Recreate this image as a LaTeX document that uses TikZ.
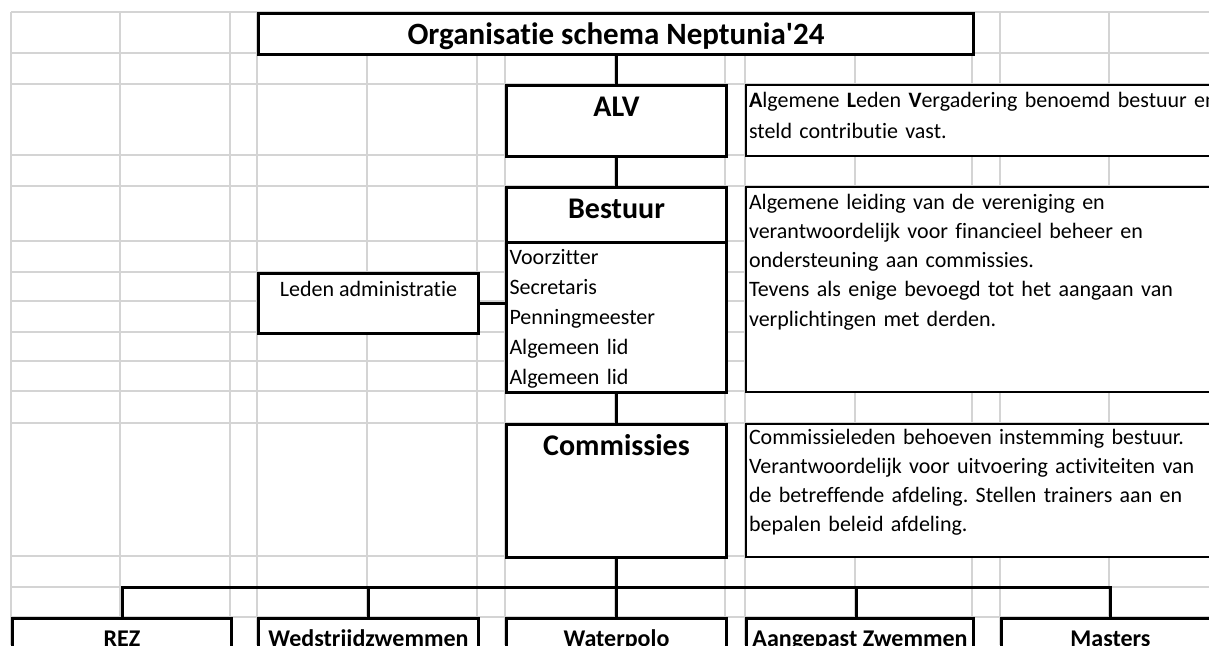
\documentclass[tikz,border=0pt]{standalone}
\usepackage{fontspec}
\setmainfont{Carlito}[Ligatures={TeXOff,NoCommon}]
\usepackage{xcolor}
\frenchspacing

\definecolor{gridgray}{RGB}{212,212,212}

\begin{document}
\begin{tikzpicture}[x=1pt, y=-1pt, line width=3pt,
  box/.style={draw, fill=white, line width=3pt, inner sep=0pt, minimum width=220pt, anchor=north west},
  desc/.style={draw, fill=white, line width=2pt, inner xsep=3pt, inner ysep=0pt, text width=480pt, align=left, anchor=north west, font=\fontsize{22}{29.3}\selectfont},
  head/.style={font=\fontsize{30}{36}\selectfont\bfseries, text height=31pt},
  unit/.style={font=\fontsize{24}{29}\selectfont\bfseries, text height=28pt, text depth=20pt},
  conn/.style={line width=3pt}]

  \useasboundingbox (0,0) rectangle (1209,645);
  \clip (0,0) rectangle (1209,645);

  % sheet grid
  \foreach \x in {11,120,230,257,367,477,505,615,725,745,855,972,1000,1109}
    \draw[gridgray, line width=1.5pt] (\x,12) -- (\x,645);
  \foreach \y in {12,53,84,155,186,241,272,301,332,361,391,423,556,587,617}
    \draw[gridgray, line width=1.5pt] (11,\y) -- (1209,\y);

  % main column
  \node[box, minimum width=715pt, font=\fontsize{31}{36}\selectfont\bfseries, text height=31pt, text depth=10pt] (title) at (257,12) {Organisatie schema Neptunia'24};
  \node[box, head, text depth=40pt] (alv) at (505,84) {ALV};
  \node[box, head, text depth=24pt] (bestuur) at (505,186) {Bestuur};
  \node[box, inner xsep=3pt, text width=214pt, align=left, font=\fontsize{22}{30}\selectfont, text height=22pt, text depth=128pt] (functies) at (505,241)
    {Voorzitter\\ Secretaris\\ Penningmeester\\ Algemeen lid\\ Algemeen lid};
  \node[box, font=\fontsize{22}{29}\selectfont, text height=23pt, text depth=37pt] (ledenadm) at (257,272) {Leden administratie};
  \node[box, head, text depth=102pt] (comm) at (505,423) {Commissies};

  % explanations
  \node[desc, text height=22pt, text depth=49pt, font=\fontsize{22}{31}\selectfont] (alvtxt) at (745,84)
    {\textbf{A}lgemene \textbf{L}eden \textbf{V}ergadering benoemd bestuur en\\ steld contributie vast.};
  \node[desc, text height=22pt, text depth=183pt] (bestuurtxt) at (745,186)
    {Algemene leiding van de vereniging en\\ verantwoordelijk voor financieel beheer en\\ ondersteuning aan commissies.\\ Tevens als enige bevoegd tot het aangaan van\\ verplichtingen met derden.};
  \node[desc, text height=20pt, text depth=113pt] (commtxt) at (745,423)
    {Commissieleden behoeven instemming bestuur.\\ Verantwoordelijk voor uitvoering activiteiten van\\ de betreffende afdeling. Stellen trainers aan en\\ bepalen beleid afdeling.};

  % afdelingen
  \node[box, unit, minimum width=219pt] (rez) at (11,617) {REZ};
  \node[box, unit] (wedstrijd) at (257,617) {Wedstrijdzwemmen};
  \node[box, unit] (waterpolo) at (505,617) {Waterpolo};
  \node[box, unit, minimum width=227pt] (aangepast) at (745,617) {Aangepast Zwemmen};
  \node[box, unit, minimum width=218pt] (masters) at (1000,617) {Masters};

  % lines
  \draw[conn] (alv.north) -- (alv.north |- title.south);
  \draw[conn] (alv.south) -- (bestuur.north);
  \draw[conn] (functies.south) -- (comm.north);
  \draw[conn] (ledenadm.east) -- (ledenadm.east -| functies.west);
  \coordinate (bar) at (615,587);
  \draw[conn] (comm.south) -- (waterpolo.north);
  \draw[conn] (rez.north) |- (bar) -| (masters.north);
  \draw[conn] (wedstrijd.north) -- (wedstrijd.north |- bar);
  \draw[conn] ([xshift=-3.5pt]aangepast.north) -- ([xshift=-3.5pt]aangepast.north |- bar);
\end{tikzpicture}
\end{document}
